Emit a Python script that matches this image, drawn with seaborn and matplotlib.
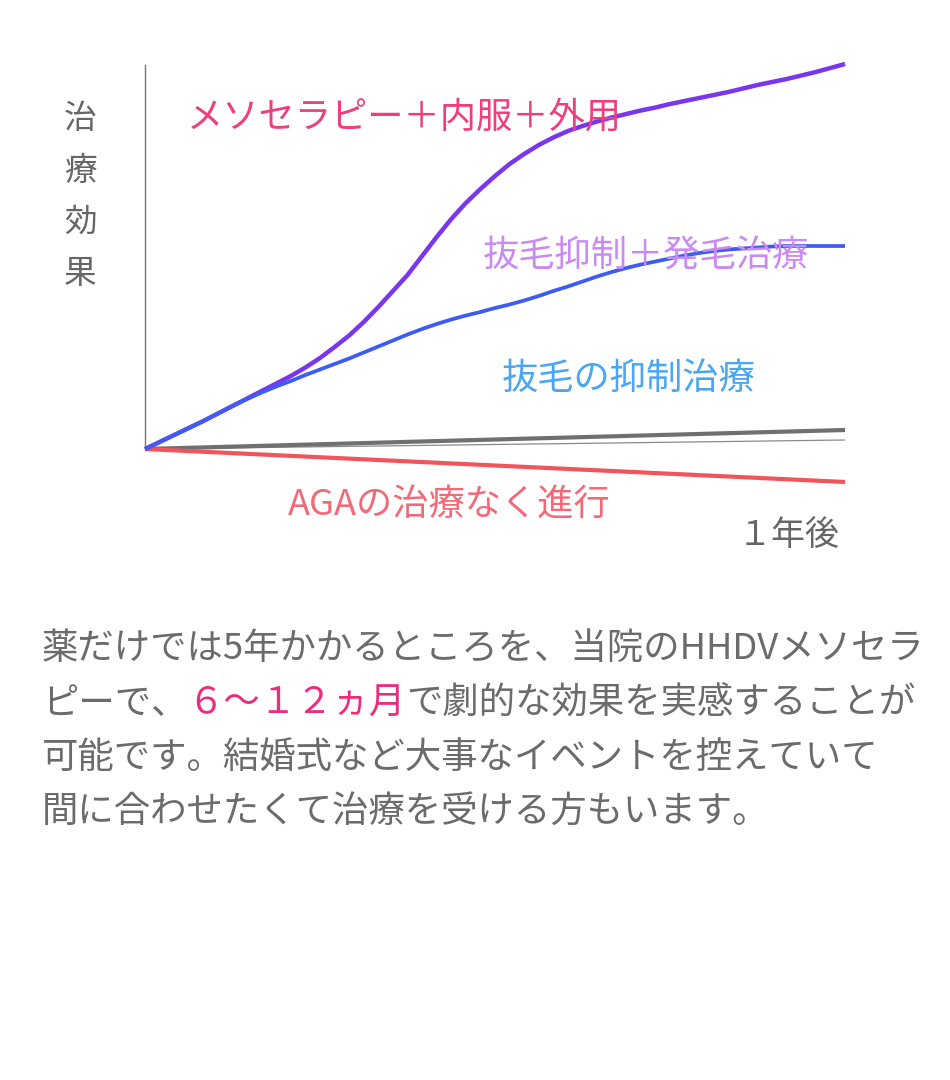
import matplotlib
matplotlib.use("Agg")
import matplotlib.pyplot as plt
import seaborn as sns
import pandas as pd

# ---- data (treatment effect, arbitrary units; 0 = start) ----
months = [0, 0.25, 0.5, 0.75, 1, 1.25, 1.5, 1.75, 2, 2.25, 2.5, 2.75, 3, 3.25,
          3.5, 3.75, 4, 4.25, 4.5, 4.75, 5, 5.25, 5.5, 5.75, 6, 6.25, 6.5, 6.75,
          7, 7.25, 7.5, 7.75, 8, 8.25, 8.5, 8.75, 9, 9.25, 9.5, 9.75, 10, 10.25,
          10.5, 10.75, 11, 11.25, 11.5, 11.75, 12]
meso_combo = [0, 7, 14, 21, 28, 35.5, 43, 50.5, 58, 65.5, 73, 81.5, 91, 102,
              113.5, 127, 142, 158, 174, 193, 212, 230, 246, 260, 273, 285, 295,
              304, 311.5, 318, 323, 327.5, 331.5, 335, 338.5, 341.5, 345, 348, 351,
              354, 357, 360.5, 364, 367, 370, 373.5, 377, 381, 385]
suppress_grow = [0, 7, 14, 21, 28, 35.5, 43, 50, 56.5, 62.5, 68, 74, 79.5, 85,
                 90.5, 96.5, 102.5, 108.5, 114.5, 120, 125, 129.5, 133.5, 137, 141,
                 144.5, 148.5, 153, 158, 162.5, 167.5, 172.5, 177, 181, 184.5, 187.5,
                 190.5, 193.5, 196, 198, 199.5, 200.5, 201.5, 202.5, 203, 203, 203,
                 203, 203]
end_months = [0, 12]
suppress_only = [0, 19]
reference = [0, 9]
no_treatment = [0, -33]

labels = {
    "meso": "メソセラピー＋内服＋外用",
    "grow": "抜毛抑制＋発毛治療",
    "supp": "抜毛の抑制治療",
    "none": "AGAの治療なく進行",
}
ylabel_chars = "治療効果"
xlabel = "１年後"
para_lines = [
    ["薬だけでは5年かかるところを、当院のHHDVメソセラ"],
    ["ピーで、", "６～１２ヵ月", "で劇的な効果を実感することが"],
    ["可能です。結婚式など大事なイベントを控えていて"],
    ["間に合わせたくて治療を受ける方もいます。"],
]

sns.set_theme(style="white")
plt.rcParams["font.family"] = ["Noto Sans CJK JP", "DejaVu Sans"]

W, H = 950, 1080
fig = plt.figure(figsize=(W / 100, H / 100), dpi=100)
fig.patch.set_facecolor("white")

def fx(x):
    return x / W

def fy(y):
    return 1 - y / H

ax = fig.add_axes([fx(145), fy(449), 700 / W, 384 / H])
ax.set_xlim(0, 12)
ax.set_ylim(0, 384)
for s in ["top", "right", "bottom"]:
    ax.spines[s].set_visible(False)
ax.spines["left"].set_color("#777777")
ax.spines["left"].set_linewidth(1.0)
ax.set_facecolor("none")

def draw(x, y, color, lw, z):
    d = pd.DataFrame({"m": x, "v": y})
    sns.lineplot(data=d, x="m", y="v", ax=ax, color=color, linewidth=lw,
                 clip_on=False, zorder=z, solid_capstyle="butt",
                 solid_joinstyle="round")

draw(end_months, reference, "#8a8a8a", 0.9, 3)
draw(end_months, suppress_only, "#707070", 3.0, 4)
draw(end_months, no_treatment, "#f2545b", 3.0, 4)
draw(months, meso_combo, "#7a36ec", 3.2, 5)
draw(months, suppress_grow, "#3d5bf5", 2.7, 6)
ax.set_xticks([])
ax.set_yticks([])
ax.set_xlabel("")
ax.set_ylabel("")

fs = 26.1
dy = 4
fig.text(fx(187), fy(113 + dy), labels["meso"], color="#ef3d7d", fontsize=fs,
         ha="left", va="center", zorder=2)
fig.text(fx(483), fy(253 + dy), labels["grow"], color="#c98af3", fontsize=fs,
         ha="left", va="center", zorder=2)
fig.text(fx(502), fy(375 + dy), labels["supp"], color="#4aa6f2", fontsize=fs,
         ha="left", va="center", zorder=2)
fig.text(fx(288), fy(502 + dy), labels["none"], color="#f26a78", fontsize=fs,
         ha="left", va="center", zorder=2)
fig.text(fx(840), fy(531 + dy), xlabel, color="#666666", fontsize=24.5,
         ha="right", va="center")

for i, ch in enumerate(ylabel_chars):
    fig.text(fx(80), fy(115 + dy + i * 51.7), ch, color="#666666", fontsize=23.5,
             ha="center", va="center")

renderer = fig.canvas.get_renderer()
line_y = [645, 700, 755, 808]
pfs = 26.2
for ly, parts in zip(line_y, para_lines):
    x = fx(42)
    for j, part in enumerate(parts):
        col = "#ee2a7b" if (len(parts) == 3 and j == 1) else "#6b6b6b"
        t = fig.text(x, fy(ly + dy), part, color=col, fontsize=pfs,
                     ha="left", va="center")
        bb = t.get_window_extent(renderer)
        x = bb.x1 / W

fig.savefig("out.png", dpi=100)
